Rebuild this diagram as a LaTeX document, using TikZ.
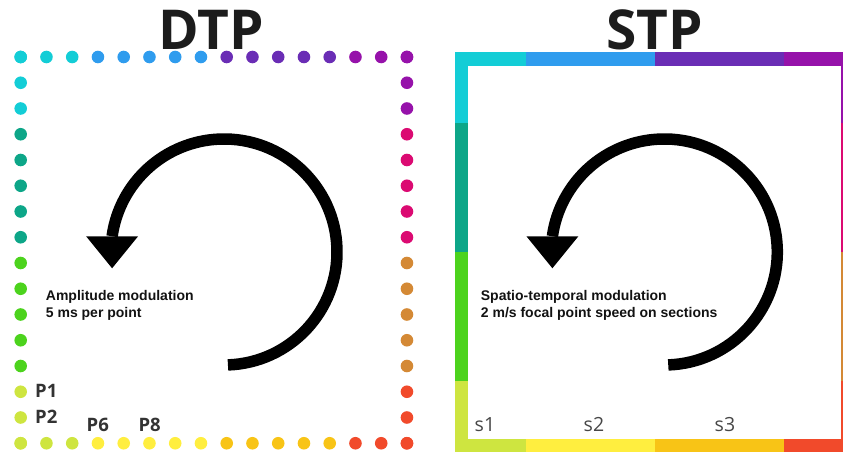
\documentclass[tikz,border=0pt]{standalone}
\usepackage{tikz}
\usepackage{fontspec}
\setmainfont{Liberation Sans}
\newfontfamily\headfont{Open Sans}
\usetikzlibrary{calc}
\definecolor{c_cyan}{RGB}{19, 205, 214}
\definecolor{c_blue}{RGB}{47, 156, 238}
\definecolor{c_purple}{RGB}{106, 45, 181}
\definecolor{c_violet}{RGB}{150, 18, 170}
\definecolor{c_teal}{RGB}{13, 166, 136}
\definecolor{c_pink}{RGB}{219, 10, 114}
\definecolor{c_green}{RGB}{76, 211, 29}
\definecolor{c_orange}{RGB}{212, 137, 53}
\definecolor{c_lime}{RGB}{206, 229, 64}
\definecolor{c_yellow}{RGB}{255, 238, 63}
\definecolor{c_amber}{RGB}{248, 196, 22}
\definecolor{c_red}{RGB}{241, 74, 43}
\definecolor{c_ink}{RGB}{28, 28, 28}
\tikzstyle{title}=[font=\headfont\bfseries\fontsize{55}{60}\selectfont,text=c_ink,
  inner sep=0pt,anchor=base]
\tikzstyle{note}=[font=\bfseries\fontsize{14}{17}\selectfont,text=black!93,
  inner sep=0pt,align=left,anchor=base west]
\tikzstyle{plabel}=[font=\headfont\bfseries\fontsize{18.5}{20}\selectfont,text=black!80,
  inner sep=0pt,anchor=base west]
\tikzstyle{slabel}=[font=\headfont\fontsize{19.5}{20}\selectfont,text=black!72,
  inner sep=0pt,anchor=base west]
\tikzstyle{turn}=[line width=11.5pt,black]

\begin{document}
\begin{tikzpicture}[x=1pt,y=1pt]
    \useasboundingbox (0,0) rectangle (843,454);
    \clip (0,0) rectangle (843,454);
    % DTP points
    \begin{scope}[shift={(20.7,397)},x=25.75pt,y=-25.75pt]
        \foreach \a/\b/\ct/\cr/\cb/\cl in {0/2/c_cyan/c_violet/c_lime/c_cyan,
            3/7/c_blue/c_pink/c_yellow/c_teal, 8/12/c_purple/c_orange/c_amber/c_green,
            13/15/c_violet/c_red/c_red/c_lime}
            \foreach \i in {\a,...,\b} {
                \fill[\ct] (\i,0) circle[radius=6.3pt];
                \fill[\cr] (15,\i) circle[radius=6.3pt];
                \fill[\cb] (\i,15) circle[radius=6.3pt];
                \fill[\cl] (0,\i) circle[radius=6.3pt];
            }
    \end{scope}
    % STP sections
    \begin{scope}[shift={(461.7,395)},x=25.75pt,y=-25.75pt]
        \foreach \a/\b/\ct/\cr/\cb/\cl in {-0.26/2.5/c_cyan/c_violet/c_lime/c_cyan,
            2.5/7.5/c_blue/c_pink/c_yellow/c_teal, 7.5/12.5/c_purple/c_orange/c_amber/c_green,
            12.5/15.26/c_violet/c_red/c_red/c_lime} {
            \fill[\ct] (\a,-0.26) rectangle (\b,0.26);
            \fill[\cr] (14.74,\a) rectangle (15.26,\b);
            \fill[\cb] (\a,14.74) rectangle (\b,15.26);
            \fill[\cl] (-0.26,\a) rectangle (0.26,\b);
        }
    \end{scope}
    \draw[turn] (224,202) ++(-88:113) arc[start angle=-88,end angle=172,radius=113];
    \fill (224,202) ++(172:113) ++(-26,0) -- ++(52,0) -- ++(-26,-32) -- cycle;
    \draw[turn] (664.3,202) ++(-88:113) arc[start angle=-88,end angle=172,radius=113];
    \fill (664.3,202) ++(172:113) ++(-26,0) -- ++(52,0) -- ++(-26,-32) -- cycle;
    \node[title] (dtp) at (211.5,404) {DTP};
    \node[title] (stp) at (655,404) {STP};
    \node[note] (am) at (45.7,136) {Amplitude modulation\\5 ms per point};
    \node[note] (st) at (480.7,136.7) {Spatio-temporal modulation\\2 m/s focal point speed on sections};
    \node[plabel] (p1) at (35,56) {P1};
    \node[plabel] (p2) at (35,30) {P2};
    \node[plabel] (p6) at (86.5,22) {P6};
    \node[plabel] (p8) at (138.3,22) {P8};
    \node[slabel] (s1) at (474.5,22.3) {s1};
    \node[slabel] (s2) at (583.5,22.3) {s2};
    \node[slabel] (s3) at (714.5,22.3) {s3};
\end{tikzpicture}
\end{document}
